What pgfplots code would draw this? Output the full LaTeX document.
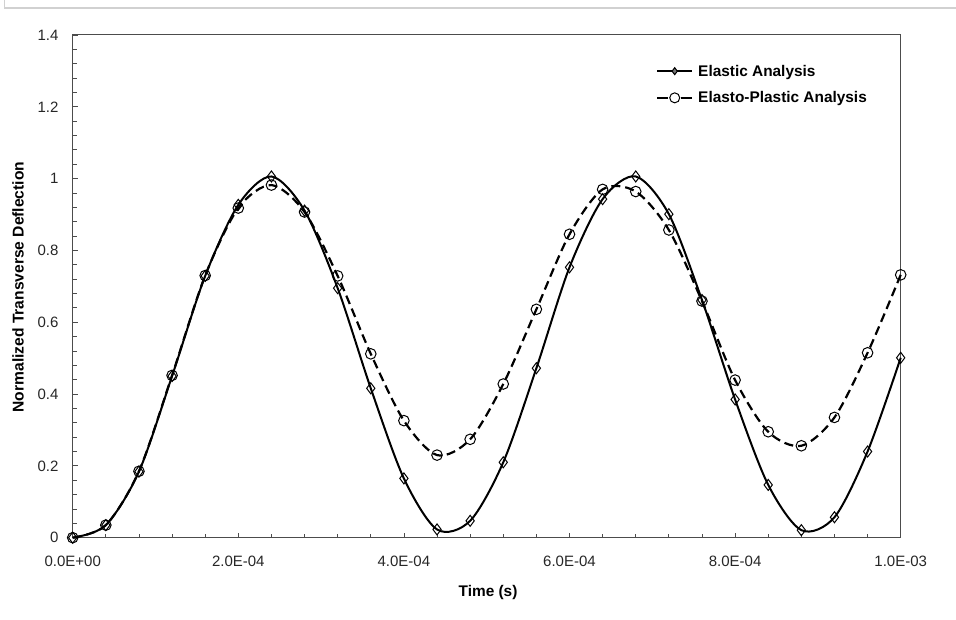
\documentclass[border=0pt]{standalone}
\usepackage{pgfplots}
\pgfplotsset{compat=1.18}
\usepackage{fontspec}
\setmainfont{Liberation Sans}
\begin{document}
\begin{tikzpicture}[x=1pt,y=1pt]
\path[use as bounding box] (0,0) rectangle (956,620);
\draw[line width=1.5pt, color=black!18] (4.5,620) -- (4.5,612) -- (956,612);
\begin{axis}[
  at={(72.7pt,82.3pt)}, anchor=south west,
  scale only axis, width=828pt, height=502.7pt,
  xmin=0, xmax=0.001, ymin=0, ymax=1.4,
  clip=false,
  scaled x ticks=false, scaled y ticks=false,
  xtick={0,0.0002,0.0004,0.0006,0.0008,0.001},
  xticklabels={0.0E+00,2.0E-04,4.0E-04,6.0E-04,8.0E-04,1.0E-03},
  ytick={0,0.2,0.4,0.6,0.8,1,1.2,1.4},
  yticklabels={0,0.2,0.4,0.6,0.8,1,1.2,1.4},
  minor x tick num=4, minor y tick num=4,
  tick pos=left, tick align=inside,
  major tick length=5pt, minor tick length=4pt,
  tick style={line width=0.8pt, color=black!70},
  axis line style={line width=1pt, color=black!70},
  ticklabel style={font=\fontsize{15}{17}\selectfont, color=black!85},
  xticklabel style={inner sep=0pt, anchor=north, yshift=-18pt},
  yticklabel style={inner sep=0pt, anchor=east, xshift=-14pt},
  xlabel={\textbf{Time (s)}},
  ylabel={\textbf{Normalized Transverse Deflection}},
  xlabel style={font=\fontsize{15.4}{17}\selectfont, at={(axis description cs:0.5016,-0.110)}, anchor=center},
  ylabel style={font=\fontsize{15.6}{17}\selectfont, at={(axis description cs:-0.0661,0.4987)}, anchor=center, rotate=0},
  legend style={at={(axis description cs:0.7045,0.943)}, anchor=north west,
    draw=none, fill=none, inner sep=0pt, row sep=12pt,
    font=\bfseries\fontsize{15.4}{17}\selectfont,
    nodes={inner sep=1pt}, cells={anchor=west},
    /tikz/every odd column/.append style={column sep=4pt}},
  legend image code/.code={\draw[#1] (0pt,0pt) -- (35pt,0pt); \draw[#1, solid] plot coordinates {(17.5pt,0pt)};},
]
\addplot[smooth, line width=2pt, color=black, mark=diamond, mark size=5.5pt,
  mark options={solid, line width=1pt, fill=none}, forget plot] coordinates {
(0,0) (0.00004,0.035) (0.00008,0.184) (0.00012,0.450) (0.00016,0.729)
(0.0002,0.927) (0.00024,1.006) (0.00028,0.911) (0.00032,0.695) (0.00036,0.416)
(0.0004,0.165) (0.00044,0.023) (0.00048,0.047) (0.00052,0.210) (0.00056,0.472)
(0.0006,0.753) (0.00064,0.943) (0.00068,1.006) (0.00072,0.901) (0.00076,0.662)
(0.0008,0.385) (0.00084,0.147) (0.00088,0.021) (0.00092,0.057) (0.00096,0.240)
(0.001,0.501)};
\addplot[smooth, line width=2.2pt, color=black, dash pattern=on 9pt off 5pt, mark=o, mark size=5.3pt,
  mark options={solid, line width=1pt, fill=none}, forget plot] coordinates {
(0,0) (0.00004,0.035) (0.00008,0.185) (0.00012,0.452) (0.00016,0.730)
(0.0002,0.918) (0.00024,0.982) (0.00028,0.907) (0.00032,0.729) (0.00036,0.512)
(0.0004,0.326) (0.00044,0.230) (0.00048,0.274) (0.00052,0.428) (0.00056,0.636)
(0.0006,0.845) (0.00064,0.970) (0.00068,0.964) (0.00072,0.857) (0.00076,0.659)
(0.0008,0.439) (0.00084,0.295) (0.00088,0.256) (0.00092,0.335) (0.00096,0.515)
(0.001,0.732)};
\addlegendimage{line width=2pt, color=black, mark=diamond*, mark size=3.5pt, mark options={solid, line width=1pt, fill=black!55}}
\addlegendentry{Elastic Analysis}
\addlegendimage{line width=2pt, color=black, dash pattern=on 11pt off 13pt, mark=*, mark size=5pt, mark options={solid, line width=1pt, fill=white}}
\addlegendentry{Elasto-Plastic Analysis}
\end{axis}
\end{tikzpicture}
\end{document}
